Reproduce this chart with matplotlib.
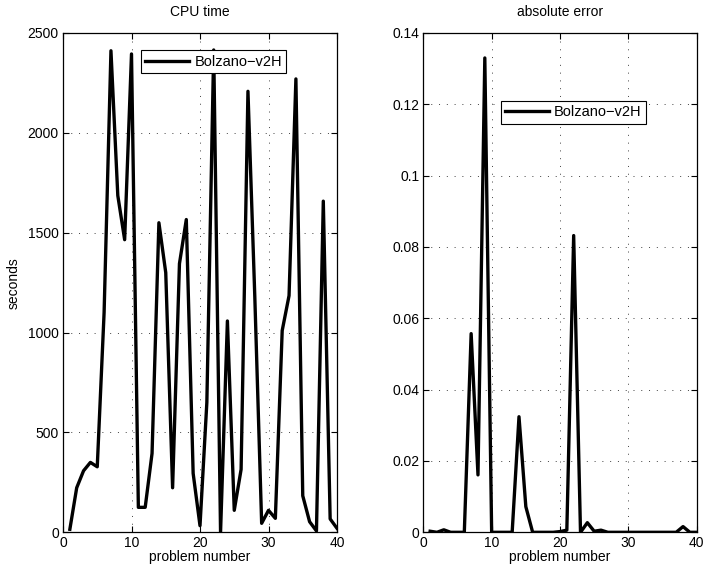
import matplotlib
matplotlib.use("Agg")
import matplotlib.pyplot as plt
from matplotlib.ticker import FuncFormatter

plt.rcParams['font.family'] = ['Liberation Sans', 'DejaVu Sans']

problems = list(range(1, 41))
cpu_time = [15, 223, 308, 350, 328, 1100, 2411, 1686, 1465, 2395,
            125, 125, 395, 1550, 1300, 223, 1345, 1566, 295, 33,
            650, 2415, 0, 1058, 110, 315, 2208, 1180, 45, 110,
            70, 1010, 1185, 2270, 183, 53, 7, 1658, 67, 20]
abs_error = [0.0003, 0.0, 0.0007, 0.0, 0.0, 0.0, 0.0557, 0.0161, 0.1330, 0.0,
             0.0, 0.0, 0.0, 0.0324, 0.0072, 0.0, 0.0, 0.0, 0.0, 0.0002,
             0.0006, 0.0832, 0.0, 0.0027, 0.0003, 0.0006, 0.0, 0.0, 0.0, 0.0,
             0.0, 0.0, 0.0, 0.0, 0.0, 0.0, 0.0, 0.0016, 0.0, 0.0]
series_label = "Bolzano\u2212v2H"
x_ticks = [0, 10, 20, 30, 40]
cpu_ticks = [0, 500, 1000, 1500, 2000, 2500]
err_ticks = [0, 0.02, 0.04, 0.06, 0.08, 0.1, 0.12, 0.14]

W, H = 706, 569
FS = 10
fig = plt.figure(figsize=(W / 100, H / 100), dpi=100)

def style(ax):
    ax.set_xlim(0, 40)
    ax.set_xticks(x_ticks)
    ax.tick_params(direction='in', top=True, right=True, length=4,
                   width=0.8, labelsize=FS, pad=3, colors='black')
    ax.grid(True, linestyle=(0, (1, 7)), color='0.25', linewidth=0.7)
    for s in ax.spines.values():
        s.set_linewidth(0.9)
    ax.set_xlabel('problem number', fontsize=FS, labelpad=0)

def add_legend(ax, anchor):
    leg = ax.legend(loc='upper left', bbox_to_anchor=anchor, borderaxespad=0,
                    fancybox=False, framealpha=1, edgecolor='black', fontsize=10.5,
                    handlelength=3.0, handletextpad=0.35, borderpad=0.3)
    leg.get_frame().set_linewidth(0.8)
    return leg

ax1 = fig.add_axes([63 / W, 1 - 532.3 / H, 274 / W, 499.3 / H])
ax1.plot(problems, cpu_time, color='black', linewidth=2.4, label=series_label)
ax1.set_ylim(0, 2500)
ax1.set_yticks(cpu_ticks)
style(ax1)
ax1.set_title('CPU time', fontsize=FS, pad=12)
ax1.set_ylabel('seconds', fontsize=FS, labelpad=5)
add_legend(ax1, (0.285, 0.965))

ax2 = fig.add_axes([423.3 / W, 1 - 532.3 / H, 273.4 / W, 499.3 / H])
ax2.plot(problems, abs_error, color='black', linewidth=2.4, label=series_label)
ax2.set_ylim(0, 0.14)
ax2.set_yticks(err_ticks)
ax2.yaxis.set_major_formatter(FuncFormatter(lambda v, p: '%g' % round(v, 4)))
style(ax2)
ax2.set_title('absolute error', fontsize=FS, pad=12)
add_legend(ax2, (0.284, 0.864))

fig.savefig('out.png', dpi=100)
